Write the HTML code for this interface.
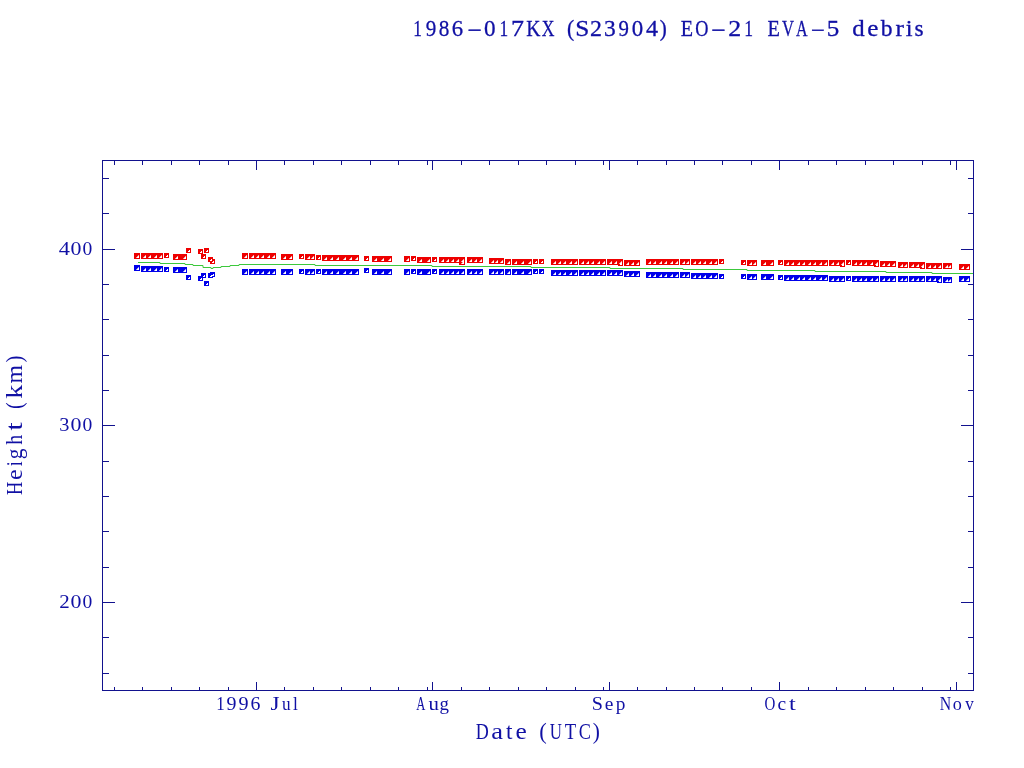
<!DOCTYPE html>
<html><head><meta charset="utf-8"><title>1986-017KX (S23904) EO-21 EVA-5 debris</title>
<style>html,body{margin:0;padding:0;background:#fff;width:1024px;height:768px;overflow:hidden}</style>
</head><body>
<svg width="1024" height="768" viewBox="0 0 1024 768" style="display:block;will-change:transform">
<rect width="1024" height="768" fill="#fff"/>
<g shape-rendering="crispEdges">
<rect x="102.5" y="160.5" width="871" height="530" fill="none" stroke="#12128e" stroke-width="1"/>
<path d="M114.5 161v4M114.5 690v-3M142.5 161v4M142.5 690v-3M171.5 161v4M171.5 690v-3M199.5 161v4M199.5 690v-3M228.5 161v4M228.5 690v-3M256.5 161v9M256.5 690v-8M284.5 161v4M284.5 690v-3M313.5 161v4M313.5 690v-3M341.5 161v4M341.5 690v-3M370.5 161v4M370.5 690v-3M398.5 161v4M398.5 690v-3M427.5 161v4M427.5 690v-3M432.5 161v9M432.5 690v-8M461.5 161v4M461.5 690v-3M489.5 161v4M489.5 690v-3M518.5 161v4M518.5 690v-3M546.5 161v4M546.5 690v-3M575.5 161v4M575.5 690v-3M603.5 161v4M603.5 690v-3M609.5 161v9M609.5 690v-8M637.5 161v4M637.5 690v-3M666.5 161v4M666.5 690v-3M694.5 161v4M694.5 690v-3M722.5 161v4M722.5 690v-3M751.5 161v4M751.5 690v-3M779.5 161v9M779.5 690v-8M808.5 161v4M808.5 690v-3M836.5 161v4M836.5 690v-3M865.5 161v4M865.5 690v-3M893.5 161v4M893.5 690v-3M922.5 161v4M922.5 690v-3M950.5 161v4M950.5 690v-3M956.5 161v9M956.5 690v-8M103 673.5h6M973 673.5h-5M103 637.5h6M973 637.5h-5M103 602.5h12M973 602.5h-12M103 567.5h6M973 567.5h-5M103 531.5h6M973 531.5h-5M103 496.5h6M973 496.5h-5M103 461.5h6M973 461.5h-5M103 425.5h12M973 425.5h-12M103 390.5h6M973 390.5h-5M103 355.5h6M973 355.5h-5M103 319.5h6M973 319.5h-5M103 284.5h6M973 284.5h-5M103 249.5h12M973 249.5h-12M103 213.5h6M973 213.5h-5M103 178.5h6M973 178.5h-5" stroke="#12128e" stroke-width="1" fill="none"/>
<path d="M134 253h6v6h-6zM141 253h22v6h-22zM164 253h5v5h-5zM173 254h14v6h-14zM186 248h5v5h-5zM198 249h5v5h-5zM201 254h5v5h-5zM204 248h5v5h-5zM208 257h5v5h-5zM210 259h5v5h-5zM242 253h6v6h-6zM249 253h27v6h-27zM281 254h12v6h-12zM299 254h5v5h-5zM305 254h10v6h-10zM316 255h5v5h-5zM322 255h37v6h-37zM364 256h5v5h-5zM372 256h20v6h-20zM404 256h6v6h-6zM411 256h5v5h-5zM417 257h14v6h-14zM432 257h5v5h-5zM439 257h26v6h-26zM459 259h6v6h-6zM467 257h16v6h-16zM489 258h15v6h-15zM505 259h6v6h-6zM512 259h20v6h-20zM533 259h5v5h-5zM539 259h5v5h-5zM551 259h27v6h-27zM579 259h27v6h-27zM607 259h16v6h-16zM618 261h5v5h-5zM624 260h16v6h-16zM646 259h33v6h-33zM680 259h10v6h-10zM691 259h27v6h-27zM719 259h5v5h-5zM741 260h5v5h-5zM747 260h10v6h-10zM761 260h13v6h-13zM778 260h5v5h-5zM784 260h44v6h-44zM829 260h16v6h-16zM840 262h5v5h-5zM846 260h5v5h-5zM852 260h27v6h-27zM874 262h5v5h-5zM880 261h16v6h-16zM898 262h10v6h-10zM909 262h16v6h-16zM920 264h5v5h-5zM926 263h16v6h-16zM943 263h9v6h-9zM959 264h11v6h-11z" fill="#ee0000"/><path d="M138 255h1v1h-1zM137 256h1v1h-1zM136 257h1v1h-1zM145 255h1v1h-1zM144 256h1v1h-1zM143 257h1v1h-1zM150 255h1v1h-1zM149 256h1v1h-1zM148 257h1v1h-1zM156 255h1v1h-1zM155 256h1v1h-1zM154 257h1v1h-1zM161 255h1v1h-1zM160 256h1v1h-1zM159 257h1v1h-1zM177 256h1v1h-1zM176 257h1v1h-1zM175 258h1v1h-1zM185 256h1v1h-1zM184 257h1v1h-1zM183 258h1v1h-1zM246 255h1v1h-1zM245 256h1v1h-1zM244 257h1v1h-1zM253 255h1v1h-1zM252 256h1v1h-1zM251 257h1v1h-1zM258 255h1v1h-1zM257 256h1v1h-1zM256 257h1v1h-1zM263 255h1v1h-1zM262 256h1v1h-1zM261 257h1v1h-1zM269 255h1v1h-1zM268 256h1v1h-1zM267 257h1v1h-1zM274 255h1v1h-1zM273 256h1v1h-1zM272 257h1v1h-1zM285 256h1v1h-1zM284 257h1v1h-1zM283 258h1v1h-1zM291 256h1v1h-1zM290 257h1v1h-1zM289 258h1v1h-1zM309 256h1v1h-1zM308 257h1v1h-1zM307 258h1v1h-1zM313 256h1v1h-1zM312 257h1v1h-1zM311 258h1v1h-1zM326 257h1v1h-1zM325 258h1v1h-1zM324 259h1v1h-1zM332 257h1v1h-1zM331 258h1v1h-1zM330 259h1v1h-1zM338 257h1v1h-1zM337 258h1v1h-1zM336 259h1v1h-1zM345 257h1v1h-1zM344 258h1v1h-1zM343 259h1v1h-1zM351 257h1v1h-1zM350 258h1v1h-1zM349 259h1v1h-1zM357 257h1v1h-1zM356 258h1v1h-1zM355 259h1v1h-1zM376 258h1v1h-1zM375 259h1v1h-1zM374 260h1v1h-1zM383 258h1v1h-1zM382 259h1v1h-1zM381 260h1v1h-1zM390 258h1v1h-1zM389 259h1v1h-1zM388 260h1v1h-1zM408 258h1v1h-1zM407 259h1v1h-1zM406 260h1v1h-1zM421 259h1v1h-1zM420 260h1v1h-1zM419 261h1v1h-1zM429 259h1v1h-1zM428 260h1v1h-1zM427 261h1v1h-1zM443 259h1v1h-1zM442 260h1v1h-1zM441 261h1v1h-1zM448 259h1v1h-1zM447 260h1v1h-1zM446 261h1v1h-1zM453 259h1v1h-1zM452 260h1v1h-1zM451 261h1v1h-1zM458 259h1v1h-1zM457 260h1v1h-1zM456 261h1v1h-1zM463 259h1v1h-1zM462 260h1v1h-1zM461 261h1v1h-1zM463 261h1v1h-1zM462 262h1v1h-1zM461 263h1v1h-1zM471 259h1v1h-1zM470 260h1v1h-1zM469 261h1v1h-1zM476 259h1v1h-1zM475 260h1v1h-1zM474 261h1v1h-1zM481 259h1v1h-1zM480 260h1v1h-1zM479 261h1v1h-1zM493 260h1v1h-1zM492 261h1v1h-1zM491 262h1v1h-1zM497 260h1v1h-1zM496 261h1v1h-1zM495 262h1v1h-1zM502 260h1v1h-1zM501 261h1v1h-1zM500 262h1v1h-1zM509 261h1v1h-1zM508 262h1v1h-1zM507 263h1v1h-1zM516 261h1v1h-1zM515 262h1v1h-1zM514 263h1v1h-1zM523 261h1v1h-1zM522 262h1v1h-1zM521 263h1v1h-1zM530 261h1v1h-1zM529 262h1v1h-1zM528 263h1v1h-1zM555 261h1v1h-1zM554 262h1v1h-1zM553 263h1v1h-1zM560 261h1v1h-1zM559 262h1v1h-1zM558 263h1v1h-1zM565 261h1v1h-1zM564 262h1v1h-1zM563 263h1v1h-1zM571 261h1v1h-1zM570 262h1v1h-1zM569 263h1v1h-1zM576 261h1v1h-1zM575 262h1v1h-1zM574 263h1v1h-1zM583 261h1v1h-1zM582 262h1v1h-1zM581 263h1v1h-1zM588 261h1v1h-1zM587 262h1v1h-1zM586 263h1v1h-1zM593 261h1v1h-1zM592 262h1v1h-1zM591 263h1v1h-1zM599 261h1v1h-1zM598 262h1v1h-1zM597 263h1v1h-1zM604 261h1v1h-1zM603 262h1v1h-1zM602 263h1v1h-1zM611 261h1v1h-1zM610 262h1v1h-1zM609 263h1v1h-1zM616 261h1v1h-1zM615 262h1v1h-1zM614 263h1v1h-1zM621 261h1v1h-1zM620 262h1v1h-1zM619 263h1v1h-1zM628 262h1v1h-1zM627 263h1v1h-1zM626 264h1v1h-1zM633 262h1v1h-1zM632 263h1v1h-1zM631 264h1v1h-1zM638 262h1v1h-1zM637 263h1v1h-1zM636 264h1v1h-1zM650 261h1v1h-1zM649 262h1v1h-1zM648 263h1v1h-1zM655 261h1v1h-1zM654 262h1v1h-1zM653 263h1v1h-1zM661 261h1v1h-1zM660 262h1v1h-1zM659 263h1v1h-1zM666 261h1v1h-1zM665 262h1v1h-1zM664 263h1v1h-1zM672 261h1v1h-1zM671 262h1v1h-1zM670 263h1v1h-1zM677 261h1v1h-1zM676 262h1v1h-1zM675 263h1v1h-1zM684 261h1v1h-1zM683 262h1v1h-1zM682 263h1v1h-1zM688 261h1v1h-1zM687 262h1v1h-1zM686 263h1v1h-1zM695 261h1v1h-1zM694 262h1v1h-1zM693 263h1v1h-1zM700 261h1v1h-1zM699 262h1v1h-1zM698 263h1v1h-1zM705 261h1v1h-1zM704 262h1v1h-1zM703 263h1v1h-1zM711 261h1v1h-1zM710 262h1v1h-1zM709 263h1v1h-1zM716 261h1v1h-1zM715 262h1v1h-1zM714 263h1v1h-1zM751 262h1v1h-1zM750 263h1v1h-1zM749 264h1v1h-1zM755 262h1v1h-1zM754 263h1v1h-1zM753 264h1v1h-1zM765 262h1v1h-1zM764 263h1v1h-1zM763 264h1v1h-1zM772 262h1v1h-1zM771 263h1v1h-1zM770 264h1v1h-1zM788 262h1v1h-1zM787 263h1v1h-1zM786 264h1v1h-1zM793 262h1v1h-1zM792 263h1v1h-1zM791 264h1v1h-1zM799 262h1v1h-1zM798 263h1v1h-1zM797 264h1v1h-1zM804 262h1v1h-1zM803 263h1v1h-1zM802 264h1v1h-1zM810 262h1v1h-1zM809 263h1v1h-1zM808 264h1v1h-1zM815 262h1v1h-1zM814 263h1v1h-1zM813 264h1v1h-1zM821 262h1v1h-1zM820 263h1v1h-1zM819 264h1v1h-1zM826 262h1v1h-1zM825 263h1v1h-1zM824 264h1v1h-1zM833 262h1v1h-1zM832 263h1v1h-1zM831 264h1v1h-1zM838 262h1v1h-1zM837 263h1v1h-1zM836 264h1v1h-1zM843 262h1v1h-1zM842 263h1v1h-1zM841 264h1v1h-1zM856 262h1v1h-1zM855 263h1v1h-1zM854 264h1v1h-1zM861 262h1v1h-1zM860 263h1v1h-1zM859 264h1v1h-1zM866 262h1v1h-1zM865 263h1v1h-1zM864 264h1v1h-1zM872 262h1v1h-1zM871 263h1v1h-1zM870 264h1v1h-1zM877 262h1v1h-1zM876 263h1v1h-1zM875 264h1v1h-1zM884 263h1v1h-1zM883 264h1v1h-1zM882 265h1v1h-1zM889 263h1v1h-1zM888 264h1v1h-1zM887 265h1v1h-1zM894 263h1v1h-1zM893 264h1v1h-1zM892 265h1v1h-1zM902 264h1v1h-1zM901 265h1v1h-1zM900 266h1v1h-1zM906 264h1v1h-1zM905 265h1v1h-1zM904 266h1v1h-1zM913 264h1v1h-1zM912 265h1v1h-1zM911 266h1v1h-1zM918 264h1v1h-1zM917 265h1v1h-1zM916 266h1v1h-1zM923 264h1v1h-1zM922 265h1v1h-1zM921 266h1v1h-1zM930 265h1v1h-1zM929 266h1v1h-1zM928 267h1v1h-1zM935 265h1v1h-1zM934 266h1v1h-1zM933 267h1v1h-1zM940 265h1v1h-1zM939 266h1v1h-1zM938 267h1v1h-1zM947 265h1v1h-1zM946 266h1v1h-1zM945 267h1v1h-1zM950 265h1v1h-1zM949 266h1v1h-1zM948 267h1v1h-1zM963 266h1v1h-1zM962 267h1v1h-1zM961 268h1v1h-1zM968 266h1v1h-1zM967 267h1v1h-1zM966 268h1v1h-1z" fill="#f4a0a0"/><path d="M138 256h1v2h-2v-1h1zM145 256h1v2h-2v-1h1zM150 256h1v2h-2v-1h1zM156 256h1v2h-2v-1h1zM161 256h1v2h-2v-1h1zM167 255h1v2h-2v-1h1zM177 257h1v2h-2v-1h1zM185 257h1v2h-2v-1h1zM189 250h1v2h-2v-1h1zM201 251h1v2h-2v-1h1zM204 256h1v2h-2v-1h1zM207 250h1v2h-2v-1h1zM211 259h1v2h-2v-1h1zM213 261h1v2h-2v-1h1zM246 256h1v2h-2v-1h1zM253 256h1v2h-2v-1h1zM258 256h1v2h-2v-1h1zM263 256h1v2h-2v-1h1zM269 256h1v2h-2v-1h1zM274 256h1v2h-2v-1h1zM285 257h1v2h-2v-1h1zM291 257h1v2h-2v-1h1zM302 256h1v2h-2v-1h1zM309 257h1v2h-2v-1h1zM313 257h1v2h-2v-1h1zM319 257h1v2h-2v-1h1zM326 258h1v2h-2v-1h1zM332 258h1v2h-2v-1h1zM338 258h1v2h-2v-1h1zM345 258h1v2h-2v-1h1zM351 258h1v2h-2v-1h1zM357 258h1v2h-2v-1h1zM367 258h1v2h-2v-1h1zM376 259h1v2h-2v-1h1zM383 259h1v2h-2v-1h1zM390 259h1v2h-2v-1h1zM408 259h1v2h-2v-1h1zM414 258h1v2h-2v-1h1zM421 260h1v2h-2v-1h1zM429 260h1v2h-2v-1h1zM435 259h1v2h-2v-1h1zM443 260h1v2h-2v-1h1zM448 260h1v2h-2v-1h1zM453 260h1v2h-2v-1h1zM458 260h1v2h-2v-1h1zM463 260h1v2h-2v-1h1zM463 262h1v2h-2v-1h1zM471 260h1v2h-2v-1h1zM476 260h1v2h-2v-1h1zM481 260h1v2h-2v-1h1zM493 261h1v2h-2v-1h1zM497 261h1v2h-2v-1h1zM502 261h1v2h-2v-1h1zM509 262h1v2h-2v-1h1zM516 262h1v2h-2v-1h1zM523 262h1v2h-2v-1h1zM530 262h1v2h-2v-1h1zM536 261h1v2h-2v-1h1zM542 261h1v2h-2v-1h1zM555 262h1v2h-2v-1h1zM560 262h1v2h-2v-1h1zM565 262h1v2h-2v-1h1zM571 262h1v2h-2v-1h1zM576 262h1v2h-2v-1h1zM583 262h1v2h-2v-1h1zM588 262h1v2h-2v-1h1zM593 262h1v2h-2v-1h1zM599 262h1v2h-2v-1h1zM604 262h1v2h-2v-1h1zM611 262h1v2h-2v-1h1zM616 262h1v2h-2v-1h1zM621 262h1v2h-2v-1h1zM621 263h1v2h-2v-1h1zM628 263h1v2h-2v-1h1zM633 263h1v2h-2v-1h1zM638 263h1v2h-2v-1h1zM650 262h1v2h-2v-1h1zM655 262h1v2h-2v-1h1zM661 262h1v2h-2v-1h1zM666 262h1v2h-2v-1h1zM672 262h1v2h-2v-1h1zM677 262h1v2h-2v-1h1zM684 262h1v2h-2v-1h1zM688 262h1v2h-2v-1h1zM695 262h1v2h-2v-1h1zM700 262h1v2h-2v-1h1zM705 262h1v2h-2v-1h1zM711 262h1v2h-2v-1h1zM716 262h1v2h-2v-1h1zM722 261h1v2h-2v-1h1zM744 262h1v2h-2v-1h1zM751 263h1v2h-2v-1h1zM755 263h1v2h-2v-1h1zM765 263h1v2h-2v-1h1zM772 263h1v2h-2v-1h1zM781 262h1v2h-2v-1h1zM788 263h1v2h-2v-1h1zM793 263h1v2h-2v-1h1zM799 263h1v2h-2v-1h1zM804 263h1v2h-2v-1h1zM810 263h1v2h-2v-1h1zM815 263h1v2h-2v-1h1zM821 263h1v2h-2v-1h1zM826 263h1v2h-2v-1h1zM833 263h1v2h-2v-1h1zM838 263h1v2h-2v-1h1zM843 263h1v2h-2v-1h1zM843 264h1v2h-2v-1h1zM849 262h1v2h-2v-1h1zM856 263h1v2h-2v-1h1zM861 263h1v2h-2v-1h1zM866 263h1v2h-2v-1h1zM872 263h1v2h-2v-1h1zM877 263h1v2h-2v-1h1zM877 264h1v2h-2v-1h1zM884 264h1v2h-2v-1h1zM889 264h1v2h-2v-1h1zM894 264h1v2h-2v-1h1zM902 265h1v2h-2v-1h1zM906 265h1v2h-2v-1h1zM913 265h1v2h-2v-1h1zM918 265h1v2h-2v-1h1zM923 265h1v2h-2v-1h1zM923 266h1v2h-2v-1h1zM930 266h1v2h-2v-1h1zM935 266h1v2h-2v-1h1zM940 266h1v2h-2v-1h1zM947 266h1v2h-2v-1h1zM950 266h1v2h-2v-1h1zM963 267h1v2h-2v-1h1zM968 267h1v2h-2v-1h1z" fill="#fff"/>
<path d="M134 265h6v6h-6zM141 266h22v6h-22zM164 267h5v5h-5zM173 267h14v6h-14zM186 275h5v5h-5zM198 276h5v5h-5zM201 273h5v5h-5zM204 281h5v5h-5zM208 273h5v5h-5zM210 272h5v5h-5zM242 269h6v6h-6zM249 269h27v6h-27zM281 269h12v6h-12zM299 269h5v5h-5zM305 269h10v6h-10zM316 269h5v5h-5zM322 269h37v6h-37zM364 268h5v5h-5zM372 269h20v6h-20zM404 269h6v6h-6zM411 269h5v5h-5zM417 269h14v6h-14zM432 269h5v5h-5zM439 269h26v6h-26zM467 269h16v6h-16zM489 269h15v6h-15zM505 269h6v6h-6zM512 269h20v6h-20zM533 269h5v5h-5zM539 269h5v5h-5zM551 270h27v6h-27zM579 270h27v6h-27zM607 270h16v6h-16zM624 271h16v6h-16zM646 272h33v6h-33zM680 272h10v6h-10zM691 273h27v6h-27zM719 274h5v5h-5zM741 274h5v5h-5zM747 274h10v6h-10zM761 274h13v6h-13zM778 275h5v5h-5zM784 275h44v6h-44zM829 276h16v6h-16zM846 276h5v5h-5zM852 276h27v6h-27zM880 276h16v6h-16zM898 276h10v6h-10zM909 276h16v6h-16zM926 276h16v6h-16zM937 278h5v5h-5zM943 277h9v6h-9zM959 276h11v6h-11z" fill="#0000ea"/><path d="M138 267h1v1h-1zM137 268h1v1h-1zM136 269h1v1h-1zM145 268h1v1h-1zM144 269h1v1h-1zM143 270h1v1h-1zM150 268h1v1h-1zM149 269h1v1h-1zM148 270h1v1h-1zM156 268h1v1h-1zM155 269h1v1h-1zM154 270h1v1h-1zM161 268h1v1h-1zM160 269h1v1h-1zM159 270h1v1h-1zM177 269h1v1h-1zM176 270h1v1h-1zM175 271h1v1h-1zM185 269h1v1h-1zM184 270h1v1h-1zM183 271h1v1h-1zM246 271h1v1h-1zM245 272h1v1h-1zM244 273h1v1h-1zM253 271h1v1h-1zM252 272h1v1h-1zM251 273h1v1h-1zM258 271h1v1h-1zM257 272h1v1h-1zM256 273h1v1h-1zM263 271h1v1h-1zM262 272h1v1h-1zM261 273h1v1h-1zM269 271h1v1h-1zM268 272h1v1h-1zM267 273h1v1h-1zM274 271h1v1h-1zM273 272h1v1h-1zM272 273h1v1h-1zM285 271h1v1h-1zM284 272h1v1h-1zM283 273h1v1h-1zM291 271h1v1h-1zM290 272h1v1h-1zM289 273h1v1h-1zM309 271h1v1h-1zM308 272h1v1h-1zM307 273h1v1h-1zM313 271h1v1h-1zM312 272h1v1h-1zM311 273h1v1h-1zM326 271h1v1h-1zM325 272h1v1h-1zM324 273h1v1h-1zM332 271h1v1h-1zM331 272h1v1h-1zM330 273h1v1h-1zM338 271h1v1h-1zM337 272h1v1h-1zM336 273h1v1h-1zM345 271h1v1h-1zM344 272h1v1h-1zM343 273h1v1h-1zM351 271h1v1h-1zM350 272h1v1h-1zM349 273h1v1h-1zM357 271h1v1h-1zM356 272h1v1h-1zM355 273h1v1h-1zM376 271h1v1h-1zM375 272h1v1h-1zM374 273h1v1h-1zM383 271h1v1h-1zM382 272h1v1h-1zM381 273h1v1h-1zM390 271h1v1h-1zM389 272h1v1h-1zM388 273h1v1h-1zM408 271h1v1h-1zM407 272h1v1h-1zM406 273h1v1h-1zM421 271h1v1h-1zM420 272h1v1h-1zM419 273h1v1h-1zM429 271h1v1h-1zM428 272h1v1h-1zM427 273h1v1h-1zM443 271h1v1h-1zM442 272h1v1h-1zM441 273h1v1h-1zM448 271h1v1h-1zM447 272h1v1h-1zM446 273h1v1h-1zM453 271h1v1h-1zM452 272h1v1h-1zM451 273h1v1h-1zM458 271h1v1h-1zM457 272h1v1h-1zM456 273h1v1h-1zM463 271h1v1h-1zM462 272h1v1h-1zM461 273h1v1h-1zM471 271h1v1h-1zM470 272h1v1h-1zM469 273h1v1h-1zM476 271h1v1h-1zM475 272h1v1h-1zM474 273h1v1h-1zM481 271h1v1h-1zM480 272h1v1h-1zM479 273h1v1h-1zM493 271h1v1h-1zM492 272h1v1h-1zM491 273h1v1h-1zM497 271h1v1h-1zM496 272h1v1h-1zM495 273h1v1h-1zM502 271h1v1h-1zM501 272h1v1h-1zM500 273h1v1h-1zM509 271h1v1h-1zM508 272h1v1h-1zM507 273h1v1h-1zM516 271h1v1h-1zM515 272h1v1h-1zM514 273h1v1h-1zM523 271h1v1h-1zM522 272h1v1h-1zM521 273h1v1h-1zM530 271h1v1h-1zM529 272h1v1h-1zM528 273h1v1h-1zM555 272h1v1h-1zM554 273h1v1h-1zM553 274h1v1h-1zM560 272h1v1h-1zM559 273h1v1h-1zM558 274h1v1h-1zM565 272h1v1h-1zM564 273h1v1h-1zM563 274h1v1h-1zM571 272h1v1h-1zM570 273h1v1h-1zM569 274h1v1h-1zM576 272h1v1h-1zM575 273h1v1h-1zM574 274h1v1h-1zM583 272h1v1h-1zM582 273h1v1h-1zM581 274h1v1h-1zM588 272h1v1h-1zM587 273h1v1h-1zM586 274h1v1h-1zM593 272h1v1h-1zM592 273h1v1h-1zM591 274h1v1h-1zM599 272h1v1h-1zM598 273h1v1h-1zM597 274h1v1h-1zM604 272h1v1h-1zM603 273h1v1h-1zM602 274h1v1h-1zM611 272h1v1h-1zM610 273h1v1h-1zM609 274h1v1h-1zM616 272h1v1h-1zM615 273h1v1h-1zM614 274h1v1h-1zM621 272h1v1h-1zM620 273h1v1h-1zM619 274h1v1h-1zM628 273h1v1h-1zM627 274h1v1h-1zM626 275h1v1h-1zM633 273h1v1h-1zM632 274h1v1h-1zM631 275h1v1h-1zM638 273h1v1h-1zM637 274h1v1h-1zM636 275h1v1h-1zM650 274h1v1h-1zM649 275h1v1h-1zM648 276h1v1h-1zM655 274h1v1h-1zM654 275h1v1h-1zM653 276h1v1h-1zM661 274h1v1h-1zM660 275h1v1h-1zM659 276h1v1h-1zM666 274h1v1h-1zM665 275h1v1h-1zM664 276h1v1h-1zM672 274h1v1h-1zM671 275h1v1h-1zM670 276h1v1h-1zM677 274h1v1h-1zM676 275h1v1h-1zM675 276h1v1h-1zM684 274h1v1h-1zM683 275h1v1h-1zM682 276h1v1h-1zM688 274h1v1h-1zM687 275h1v1h-1zM686 276h1v1h-1zM695 275h1v1h-1zM694 276h1v1h-1zM693 277h1v1h-1zM700 275h1v1h-1zM699 276h1v1h-1zM698 277h1v1h-1zM705 275h1v1h-1zM704 276h1v1h-1zM703 277h1v1h-1zM711 275h1v1h-1zM710 276h1v1h-1zM709 277h1v1h-1zM716 275h1v1h-1zM715 276h1v1h-1zM714 277h1v1h-1zM751 276h1v1h-1zM750 277h1v1h-1zM749 278h1v1h-1zM755 276h1v1h-1zM754 277h1v1h-1zM753 278h1v1h-1zM765 276h1v1h-1zM764 277h1v1h-1zM763 278h1v1h-1zM772 276h1v1h-1zM771 277h1v1h-1zM770 278h1v1h-1zM788 277h1v1h-1zM787 278h1v1h-1zM786 279h1v1h-1zM793 277h1v1h-1zM792 278h1v1h-1zM791 279h1v1h-1zM799 277h1v1h-1zM798 278h1v1h-1zM797 279h1v1h-1zM804 277h1v1h-1zM803 278h1v1h-1zM802 279h1v1h-1zM810 277h1v1h-1zM809 278h1v1h-1zM808 279h1v1h-1zM815 277h1v1h-1zM814 278h1v1h-1zM813 279h1v1h-1zM821 277h1v1h-1zM820 278h1v1h-1zM819 279h1v1h-1zM826 277h1v1h-1zM825 278h1v1h-1zM824 279h1v1h-1zM833 278h1v1h-1zM832 279h1v1h-1zM831 280h1v1h-1zM838 278h1v1h-1zM837 279h1v1h-1zM836 280h1v1h-1zM843 278h1v1h-1zM842 279h1v1h-1zM841 280h1v1h-1zM856 278h1v1h-1zM855 279h1v1h-1zM854 280h1v1h-1zM861 278h1v1h-1zM860 279h1v1h-1zM859 280h1v1h-1zM866 278h1v1h-1zM865 279h1v1h-1zM864 280h1v1h-1zM872 278h1v1h-1zM871 279h1v1h-1zM870 280h1v1h-1zM877 278h1v1h-1zM876 279h1v1h-1zM875 280h1v1h-1zM884 278h1v1h-1zM883 279h1v1h-1zM882 280h1v1h-1zM889 278h1v1h-1zM888 279h1v1h-1zM887 280h1v1h-1zM894 278h1v1h-1zM893 279h1v1h-1zM892 280h1v1h-1zM902 278h1v1h-1zM901 279h1v1h-1zM900 280h1v1h-1zM906 278h1v1h-1zM905 279h1v1h-1zM904 280h1v1h-1zM913 278h1v1h-1zM912 279h1v1h-1zM911 280h1v1h-1zM918 278h1v1h-1zM917 279h1v1h-1zM916 280h1v1h-1zM923 278h1v1h-1zM922 279h1v1h-1zM921 280h1v1h-1zM930 278h1v1h-1zM929 279h1v1h-1zM928 280h1v1h-1zM935 278h1v1h-1zM934 279h1v1h-1zM933 280h1v1h-1zM940 278h1v1h-1zM939 279h1v1h-1zM938 280h1v1h-1zM947 279h1v1h-1zM946 280h1v1h-1zM945 281h1v1h-1zM950 279h1v1h-1zM949 280h1v1h-1zM948 281h1v1h-1zM963 278h1v1h-1zM962 279h1v1h-1zM961 280h1v1h-1zM968 278h1v1h-1zM967 279h1v1h-1zM966 280h1v1h-1z" fill="#a0a0f0"/><path d="M138 268h1v2h-2v-1h1zM145 269h1v2h-2v-1h1zM150 269h1v2h-2v-1h1zM156 269h1v2h-2v-1h1zM161 269h1v2h-2v-1h1zM167 269h1v2h-2v-1h1zM177 270h1v2h-2v-1h1zM185 270h1v2h-2v-1h1zM189 277h1v2h-2v-1h1zM201 278h1v2h-2v-1h1zM204 275h1v2h-2v-1h1zM207 283h1v2h-2v-1h1zM211 275h1v2h-2v-1h1zM213 274h1v2h-2v-1h1zM246 272h1v2h-2v-1h1zM253 272h1v2h-2v-1h1zM258 272h1v2h-2v-1h1zM263 272h1v2h-2v-1h1zM269 272h1v2h-2v-1h1zM274 272h1v2h-2v-1h1zM285 272h1v2h-2v-1h1zM291 272h1v2h-2v-1h1zM302 271h1v2h-2v-1h1zM309 272h1v2h-2v-1h1zM313 272h1v2h-2v-1h1zM319 271h1v2h-2v-1h1zM326 272h1v2h-2v-1h1zM332 272h1v2h-2v-1h1zM338 272h1v2h-2v-1h1zM345 272h1v2h-2v-1h1zM351 272h1v2h-2v-1h1zM357 272h1v2h-2v-1h1zM367 270h1v2h-2v-1h1zM376 272h1v2h-2v-1h1zM383 272h1v2h-2v-1h1zM390 272h1v2h-2v-1h1zM408 272h1v2h-2v-1h1zM414 271h1v2h-2v-1h1zM421 272h1v2h-2v-1h1zM429 272h1v2h-2v-1h1zM435 271h1v2h-2v-1h1zM443 272h1v2h-2v-1h1zM448 272h1v2h-2v-1h1zM453 272h1v2h-2v-1h1zM458 272h1v2h-2v-1h1zM463 272h1v2h-2v-1h1zM471 272h1v2h-2v-1h1zM476 272h1v2h-2v-1h1zM481 272h1v2h-2v-1h1zM493 272h1v2h-2v-1h1zM497 272h1v2h-2v-1h1zM502 272h1v2h-2v-1h1zM509 272h1v2h-2v-1h1zM516 272h1v2h-2v-1h1zM523 272h1v2h-2v-1h1zM530 272h1v2h-2v-1h1zM536 271h1v2h-2v-1h1zM542 271h1v2h-2v-1h1zM555 273h1v2h-2v-1h1zM560 273h1v2h-2v-1h1zM565 273h1v2h-2v-1h1zM571 273h1v2h-2v-1h1zM576 273h1v2h-2v-1h1zM583 273h1v2h-2v-1h1zM588 273h1v2h-2v-1h1zM593 273h1v2h-2v-1h1zM599 273h1v2h-2v-1h1zM604 273h1v2h-2v-1h1zM611 273h1v2h-2v-1h1zM616 273h1v2h-2v-1h1zM621 273h1v2h-2v-1h1zM628 274h1v2h-2v-1h1zM633 274h1v2h-2v-1h1zM638 274h1v2h-2v-1h1zM650 275h1v2h-2v-1h1zM655 275h1v2h-2v-1h1zM661 275h1v2h-2v-1h1zM666 275h1v2h-2v-1h1zM672 275h1v2h-2v-1h1zM677 275h1v2h-2v-1h1zM684 275h1v2h-2v-1h1zM688 275h1v2h-2v-1h1zM695 276h1v2h-2v-1h1zM700 276h1v2h-2v-1h1zM705 276h1v2h-2v-1h1zM711 276h1v2h-2v-1h1zM716 276h1v2h-2v-1h1zM722 276h1v2h-2v-1h1zM744 276h1v2h-2v-1h1zM751 277h1v2h-2v-1h1zM755 277h1v2h-2v-1h1zM765 277h1v2h-2v-1h1zM772 277h1v2h-2v-1h1zM781 277h1v2h-2v-1h1zM788 278h1v2h-2v-1h1zM793 278h1v2h-2v-1h1zM799 278h1v2h-2v-1h1zM804 278h1v2h-2v-1h1zM810 278h1v2h-2v-1h1zM815 278h1v2h-2v-1h1zM821 278h1v2h-2v-1h1zM826 278h1v2h-2v-1h1zM833 279h1v2h-2v-1h1zM838 279h1v2h-2v-1h1zM843 279h1v2h-2v-1h1zM849 278h1v2h-2v-1h1zM856 279h1v2h-2v-1h1zM861 279h1v2h-2v-1h1zM866 279h1v2h-2v-1h1zM872 279h1v2h-2v-1h1zM877 279h1v2h-2v-1h1zM884 279h1v2h-2v-1h1zM889 279h1v2h-2v-1h1zM894 279h1v2h-2v-1h1zM902 279h1v2h-2v-1h1zM906 279h1v2h-2v-1h1zM913 279h1v2h-2v-1h1zM918 279h1v2h-2v-1h1zM923 279h1v2h-2v-1h1zM930 279h1v2h-2v-1h1zM935 279h1v2h-2v-1h1zM940 279h1v2h-2v-1h1zM940 280h1v2h-2v-1h1zM947 280h1v2h-2v-1h1zM950 280h1v2h-2v-1h1zM963 279h1v2h-2v-1h1zM968 279h1v2h-2v-1h1z" fill="#fff"/>
</g>
<polyline points="138,262.5 160,262.5 160,263.5 185,263.5 185,264.5 193,264.5 193,265.5 203,265.5 203,267.5 211,267.5 211,268.5 213,268.5 213,267.5 221,267.5 221,266.5 230,266.5 230,265.5 239,265.5 239,264.5 315,264.5 315,265.5 432,265.5 432,266.5 531,266.5 531,267.5 610,267.5 610,268.5 683,268.5 683,269.5 747,269.5 747,270.5 815,270.5 815,271.5 886,271.5 886,272.5 932,272.5 932,273.5 973,273.5" fill="none" stroke="#3cc83c" stroke-width="1"/>
<g fill="#1010a4" font-family="'Liberation Serif', serif">
<g stroke="#1010a4" stroke-width="0.3" font-size="23.8"><text transform="translate(417.70 36.30) scale(0.728 1)" x="-6.28">1</text><text transform="translate(430.85 36.30) scale(0.886 1)" x="-5.85">9</text><text transform="translate(444.05 36.30) scale(0.892 1)" x="-5.95">8</text><text transform="translate(457.60 36.30) scale(0.954 1)" x="-6.11">6</text><text transform="translate(474.80 37.50) scale(1.075 1)" x="-6.72">&#8722;</text><text transform="translate(489.85 36.30) scale(0.972 1)" x="-5.95">0</text><text transform="translate(504.10 36.30) scale(0.728 1)" x="-6.28">1</text><text transform="translate(518.00 36.30) scale(1.089 1)" x="-6.39">7</text><text transform="translate(533.45 36.30) scale(0.824 1)" x="-8.81">K</text><text transform="translate(548.05 36.30) scale(0.739 1)" x="-8.64">X</text><text transform="translate(570.67 36.30) scale(0.908 1)" x="-4.10">(</text><text transform="translate(582.45 36.30) scale(1.062 1)" x="-6.68">S</text><text transform="translate(595.95 36.30) scale(1.006 1)" x="-5.82">2</text><text transform="translate(610.00 36.30) scale(0.987 1)" x="-6.05">3</text><text transform="translate(623.70 36.30) scale(0.876 1)" x="-5.85">9</text><text transform="translate(637.50 36.30) scale(0.962 1)" x="-5.95">0</text><text transform="translate(651.95 36.30) scale(1.012 1)" x="-6.00">4</text><text transform="translate(663.15 36.30) scale(0.883 1)" x="-3.82">)</text><text transform="translate(686.60 36.30) scale(0.845 1)" x="-7.02">E</text><text transform="translate(701.90 36.30) scale(0.768 1)" x="-8.59">O</text><text transform="translate(718.55 37.50) scale(1.084 1)" x="-6.72">&#8722;</text><text transform="translate(734.55 36.30) scale(1.090 1)" x="-5.82">2</text><text transform="translate(748.85 36.30) scale(0.740 1)" x="-6.28">1</text><text transform="translate(773.45 36.30) scale(0.853 1)" x="-7.02">E</text><text transform="translate(787.95 36.30) scale(0.697 1)" x="-8.59">V</text><text transform="translate(801.80 36.30) scale(0.673 1)" x="-8.62">A</text><text transform="translate(818.00 37.50) scale(1.038 1)" x="-6.72">&#8722;</text><text transform="translate(833.30 36.30) scale(1.053 1)" x="-6.18">5</text><text transform="translate(858.65 36.30) scale(1.042 1)" x="-6.23">d</text><text transform="translate(872.90 36.30) scale(1.056 1)" x="-5.33">e</text><text transform="translate(886.20 36.30) scale(0.991 1)" x="-5.50">b</text><text transform="translate(899.90 36.30) scale(1.064 1)" x="-4.10">r</text><text transform="translate(909.05 36.30) scale(1.025 1)" x="-3.33">i</text><text transform="translate(919.20 36.30) scale(0.983 1)" x="-4.69">s</text></g><g font-size="19.5"><text transform="translate(64.35 254.80) scale(1.147 1)" x="-4.91">4</text><text transform="translate(75.90 254.80) scale(1.125 1)" x="-4.88">0</text><text transform="translate(87.50 254.80) scale(1.004 1)" x="-4.88">0</text></g><g font-size="19.5"><text transform="translate(64.35 430.80) scale(1.043 1)" x="-4.96">3</text><text transform="translate(75.90 430.80) scale(1.125 1)" x="-4.88">0</text><text transform="translate(87.50 430.80) scale(1.004 1)" x="-4.88">0</text></g><g font-size="19.5"><text transform="translate(64.35 607.80) scale(1.075 1)" x="-4.77">2</text><text transform="translate(75.90 607.80) scale(1.125 1)" x="-4.88">0</text><text transform="translate(87.50 607.80) scale(1.004 1)" x="-4.88">0</text></g><g font-size="19.5"><text transform="translate(220.65 709.80) scale(0.874 1)" x="-5.15">1</text><text transform="translate(231.40 709.80) scale(1.021 1)" x="-4.79">9</text><text transform="translate(243.45 709.80) scale(1.033 1)" x="-4.79">9</text><text transform="translate(255.50 709.80) scale(1.020 1)" x="-5.00">6</text><text transform="translate(275.00 709.80) scale(1.196 1)" x="-3.79">J</text><text transform="translate(286.20 709.80) scale(0.884 1)" x="-4.84">u</text><text transform="translate(295.45 709.80) scale(0.906 1)" x="-2.71">l</text></g><g font-size="19.5"><text transform="translate(420.80 709.70) scale(0.647 1)" x="-7.06">A</text><text transform="translate(433.55 709.70) scale(1.070 1)" x="-4.84">u</text><text transform="translate(444.50 709.70) scale(0.972 1)" x="-5.11">g</text></g><g font-size="19.5"><text transform="translate(597.45 709.70) scale(1.032 1)" x="-5.47">S</text><text transform="translate(609.05 709.70) scale(0.998 1)" x="-4.37">e</text><text transform="translate(620.45 709.70) scale(0.991 1)" x="-4.65">p</text></g><g font-size="19.5"><text transform="translate(769.95 709.70) scale(0.769 1)" x="-7.04">O</text><text transform="translate(781.90 709.70) scale(0.998 1)" x="-4.40">c</text><text transform="translate(792.45 709.70) scale(1.252 1)" x="-2.75">t</text></g><g font-size="19.5"><text transform="translate(945.45 709.70) scale(0.811 1)" x="-7.10">N</text><text transform="translate(957.30 709.70) scale(0.932 1)" x="-4.88">o</text><text transform="translate(969.50 709.70) scale(0.872 1)" x="-4.88">v</text></g><g font-size="24"><text transform="translate(482.15 738.90) scale(0.753 1)" x="-8.53">D</text><text transform="translate(497.40 738.90) scale(1.108 1)" x="-5.58">a</text><text transform="translate(509.20 738.90) scale(0.969 1)" x="-3.38">t</text><text transform="translate(521.15 738.90) scale(1.058 1)" x="-5.38">e</text><text transform="translate(543.15 738.90) scale(0.941 1)" x="-4.14">(</text><text transform="translate(555.90 738.90) scale(0.704 1)" x="-8.67">U</text><text transform="translate(570.55 738.90) scale(0.781 1)" x="-7.35">T</text><text transform="translate(584.65 738.90) scale(0.759 1)" x="-7.83">C</text><text transform="translate(596.10 738.90) scale(0.892 1)" x="-3.86">)</text></g><g font-size="24"><text transform="translate(21.8 488.35) rotate(-90) scale(0.765 1)" x="-8.66">H</text><text transform="translate(21.8 474.50) rotate(-90) scale(1.002 1)" x="-5.38">e</text><text transform="translate(21.8 463.70) rotate(-90) scale(0.683 1)" x="-3.36">i</text><text transform="translate(21.8 453.75) rotate(-90) scale(0.894 1)" x="-6.29">g</text><text transform="translate(21.8 439.90) rotate(-90) scale(0.830 1)" x="-5.96">h</text><text transform="translate(21.8 426.35) rotate(-90) scale(1.239 1)" x="-3.38">t</text><text transform="translate(21.8 405.45) rotate(-90) scale(0.844 1)" x="-4.14">(</text><text transform="translate(21.8 391.40) rotate(-90) scale(1.170 1)" x="-6.23">k</text><text transform="translate(21.8 374.20) rotate(-90) scale(0.995 1)" x="-9.40">m</text><text transform="translate(21.8 359.12) rotate(-90) scale(0.852 1)" x="-3.86">)</text></g>
</g>
</svg>
</body></html>
